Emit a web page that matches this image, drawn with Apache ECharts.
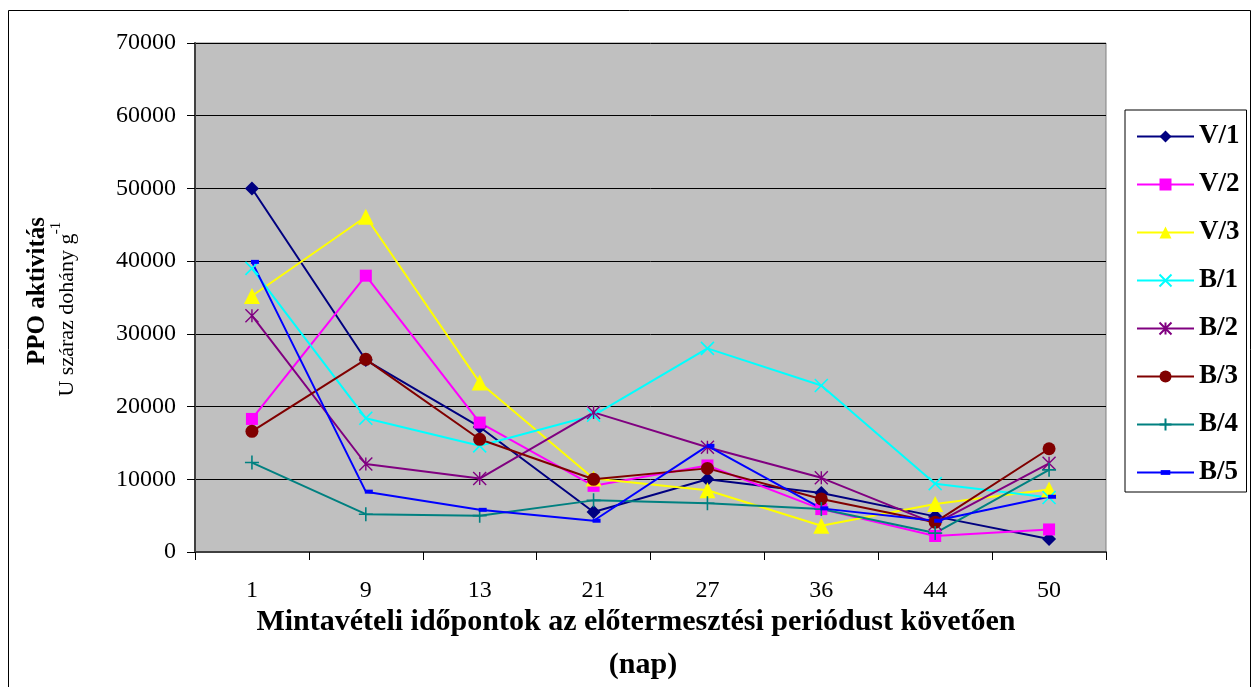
<!DOCTYPE html>
<html>
<head>
<meta charset="utf-8">
<script src="https://cdn.jsdelivr.net/npm/echarts@6/dist/echarts.min.js"></script>
<style>
html,body{margin:0;padding:0;background:#fff;}
#chart{width:1253px;height:687px;}
</style>
</head>
<body>
<div id="chart"></div>
<script>
var categories = ['1', '9', '13', '21', '27', '36', '44', '50'];
var yTicks = [0, 10000, 20000, 30000, 40000, 50000, 60000, 70000];
var seriesNames = ['V/1', 'V/2', 'V/3', 'B/1', 'B/2', 'B/3', 'B/4', 'B/5'];
var V1 = [50000, 26400, 17200, 5500, 10000, 8100, 4900, 1800];
var V2 = [18300, 38000, 17800, 9100, 11900, 5900, 2200, 3100];
var V3 = [35200, 46100, 23300, 10100, 8500, 3600, 6600, 8600];
var B1 = [39000, 18400, 14600, 18800, 28000, 22900, 9400, 7500];
var B2 = [32500, 12100, 10100, 19200, 14400, 10200, 3900, 12200];
var B3 = [16600, 26500, 15500, 10000, 11500, 7300, 4100, 14200];
var B4 = [12300, 5200, 5000, 7100, 6700, 5900, 2600, 11300];
var B5 = [39900, 8300, 5800, 4300, 14600, 6000, 4300, 7600];

var values = [V1, V2, V3, B1, B2, B3, B4, B5];
var colors = ['#000080', '#FF00FF', '#FFFF00', '#00FFFF', '#800080', '#800000', '#008080', '#0000FF'];
var symbols = [
  'diamond',
  'rect',
  'triangle',
  'path://M0,0 L10,10 M10,0 L0,10',
  'path://M0,0 L10,10 M10,0 L0,10 M5,0 L5,10',
  'circle',
  'path://M5,0 L5,10 M0,5 L10,5',
  'path://M0,0 M10,10 M1,3 L9,3 L9,7 L1,7 Z'
];
var sizes = [14, 12, 16, 13, 13, 13, 14, 10];
var strokeW = [0, 0, 0, 1.6, 1.4, 0, 1.6, 0];
var offsets = [[0,0],[0,0],[0,0],[0,0],[0,0],[0,0],[0,0],[3,0]];

var serif = '"Liberation Serif", "Times New Roman", serif';

var series = seriesNames.map(function (n, i) {
  return {
    name: n,
    type: 'line',
    data: values[i],
    symbol: symbols[i],
    symbolSize: sizes[i],
    symbolOffset: offsets[i],
    showAllSymbol: true,
    lineStyle: { color: colors[i], width: 2 },
    itemStyle: { color: colors[i], borderColor: colors[i], borderWidth: strokeW[i] },
    emphasis: { disabled: true }
  };
});

var chart = echarts.init(document.getElementById('chart'));
chart.setOption({
  animation: false,
  backgroundColor: '#ffffff',
  grid: {
    left: 195, top: 43, right: 147, bottom: 135,
    show: true, backgroundColor: '#C0C0C0', borderColor: '#808080', borderWidth: 1
  },
  xAxis: {
    type: 'category',
    data: categories,
    boundaryGap: true,
    axisLine: { lineStyle: { color: '#404040', width: 2 } },
    axisTick: { show: true, inside: false, length: 8, lineStyle: { color: '#000', width: 1 } },
    axisLabel: { color: '#000', fontFamily: serif, fontSize: 24, margin: 27 },
    splitLine: { show: false }
  },
  yAxis: {
    type: 'value',
    min: 0, max: 70000, interval: 10000,
    axisLine: { show: true, lineStyle: { color: '#404040', width: 2 } },
    axisTick: { show: true, length: 8, lineStyle: { color: '#000', width: 1 } },
    axisLabel: {
      color: '#000', fontFamily: serif, fontSize: 24, margin: 19,
      formatter: function (v) { return yTicks.indexOf(v) >= 0 ? String(v) : ''; }
    },
    splitLine: { show: true, lineStyle: { color: '#000', width: 1 } }
  },
  legend: {
    orient: 'vertical',
    left: 1125, top: 110,
    data: seriesNames,
    backgroundColor: '#ffffff',
    borderColor: '#000',
    borderWidth: 1,
    borderRadius: 0,
    padding: [13, 7, 6, 11],
    itemGap: 21,
    itemWidth: 57,
    itemHeight: 15,
    textStyle: { color: '#000', fontFamily: serif, fontWeight: 'bold', fontSize: 27, lineHeight: 26 },
    selectedMode: false
  },
  graphic: [
    { type: 'rect', z: -10, silent: true,
      shape: { x: 8.5, y: 10.5, width: 1242, height: 690 },
      style: { fill: 'none', stroke: '#000', lineWidth: 1 } },
    { type: 'text', x: 38, y: 291, rotation: Math.PI / 2, silent: true,
      style: { text: 'PPO aktivitás', font: 'bold 25px ' + serif, fill: '#000', align: 'center', verticalAlign: 'middle' } },
    { type: 'text', x: 67, y: 315, rotation: Math.PI / 2, silent: true,
      style: { text: 'U száraz dohány g', font: '22px ' + serif, fill: '#000', align: 'center', verticalAlign: 'middle' } },
    { type: 'text', x: 56, y: 228, rotation: Math.PI / 2, silent: true,
      style: { text: '-1', font: '15px ' + serif, fill: '#000', align: 'center', verticalAlign: 'middle' } },
    { type: 'text', x: 636, y: 622, silent: true,
      style: { text: 'Mintavételi időpontok az előtermesztési periódust követően', font: 'bold 30px ' + serif, fill: '#000', align: 'center', verticalAlign: 'middle' } },
    { type: 'text', x: 643, y: 665, silent: true,
      style: { text: '(nap)', font: 'bold 30px ' + serif, fill: '#000', align: 'center', verticalAlign: 'middle' } }
  ],
  series: series
});
</script>
</body>
</html>
